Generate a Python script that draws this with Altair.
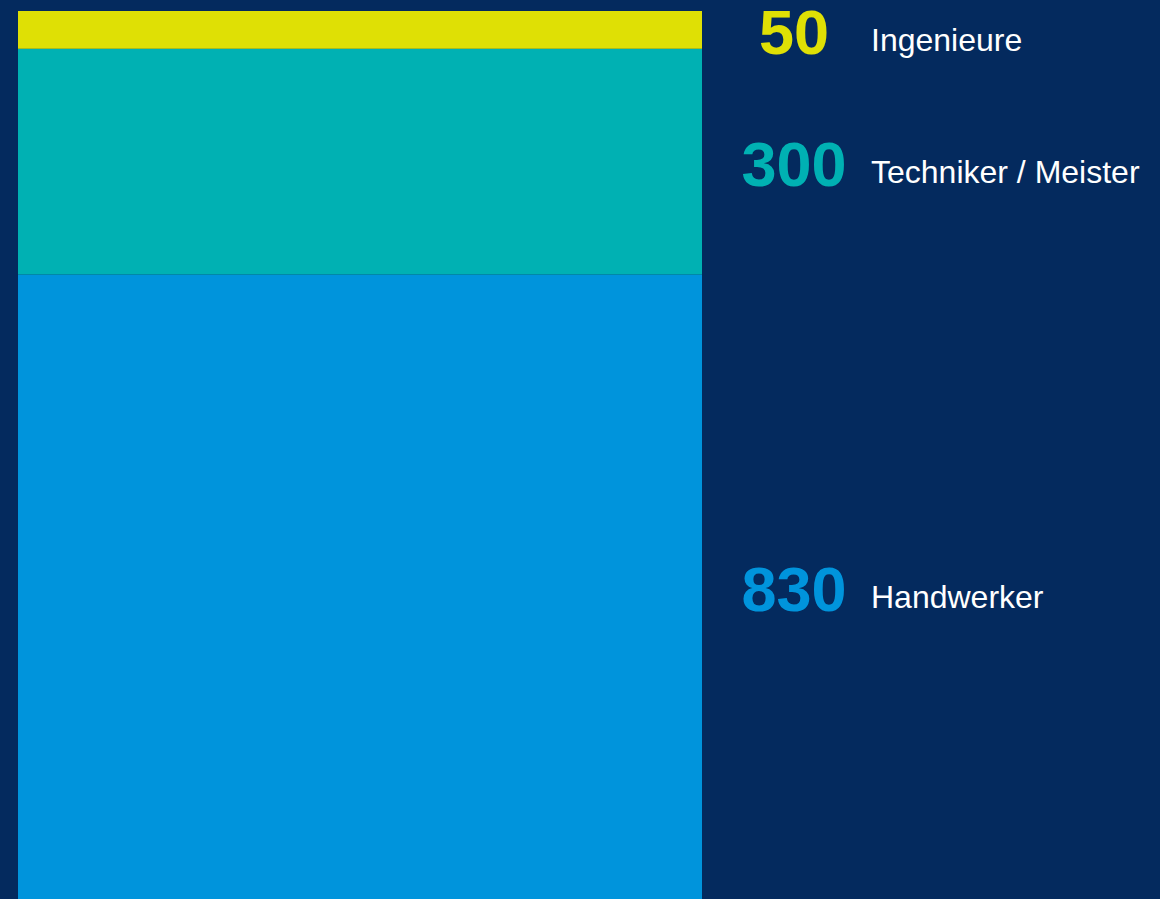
import altair as alt
import pandas as pd

categories = ["Handwerker", "Techniker / Meister", "Ingenieure"]
values = [830, 300, 50]
labels = ["830", "300", "50"]
colors = ["#0094dc", "#00b1b3", "#dfe005"]

df = pd.DataFrame({"cat": categories, "value": values, "label": labels, "order": [0, 1, 2]})

base = alt.Chart(df).transform_window(
    y1="sum(value)", sort=[alt.SortField("order")], frame=[None, 0]
).transform_calculate(
    y0="datum.y1 - datum.value", mid="datum.y1 - datum.value / 2"
)

yscale = alt.Scale(domain=[0, sum(values)], nice=False, zero=True)
cscale = alt.Scale(domain=categories, range=colors)

bars = base.mark_bar(cornerRadius=0).encode(
    x=alt.value(18), x2=alt.value(702),
    y=alt.Y("y1:Q", scale=yscale, axis=None),
    y2="y0:Q",
    color=alt.Color("cat:N", scale=cscale, legend=None),
)

nums = base.mark_text(align="center", baseline="middle", fontSize=63, fontWeight="bold",
                      font="Arial, Liberation Sans", dy=5).encode(
    x=alt.value(794),
    y=alt.Y("mid:Q", scale=yscale, axis=None),
    text="label:N",
    color=alt.Color("cat:N", scale=cscale, legend=None),
)

names = base.mark_text(align="left", baseline="middle", fontSize=32, font="Arial, Liberation Sans",
                       color="#ffffff", dy=11).encode(
    x=alt.value(871),
    y=alt.Y("mid:Q", scale=yscale, axis=None),
    text="cat:N",
)

chart = alt.layer(bars, nums, names).properties(
    width=1160, height=888, background="#042a5e",
    padding={"top": 11, "left": 0, "right": 0, "bottom": 0},
    autosize=alt.AutoSizeParams(type="none"),
).configure_view(stroke=None)

chart.save("out.html", embed_options={"renderer": "svg", "actions": False})
